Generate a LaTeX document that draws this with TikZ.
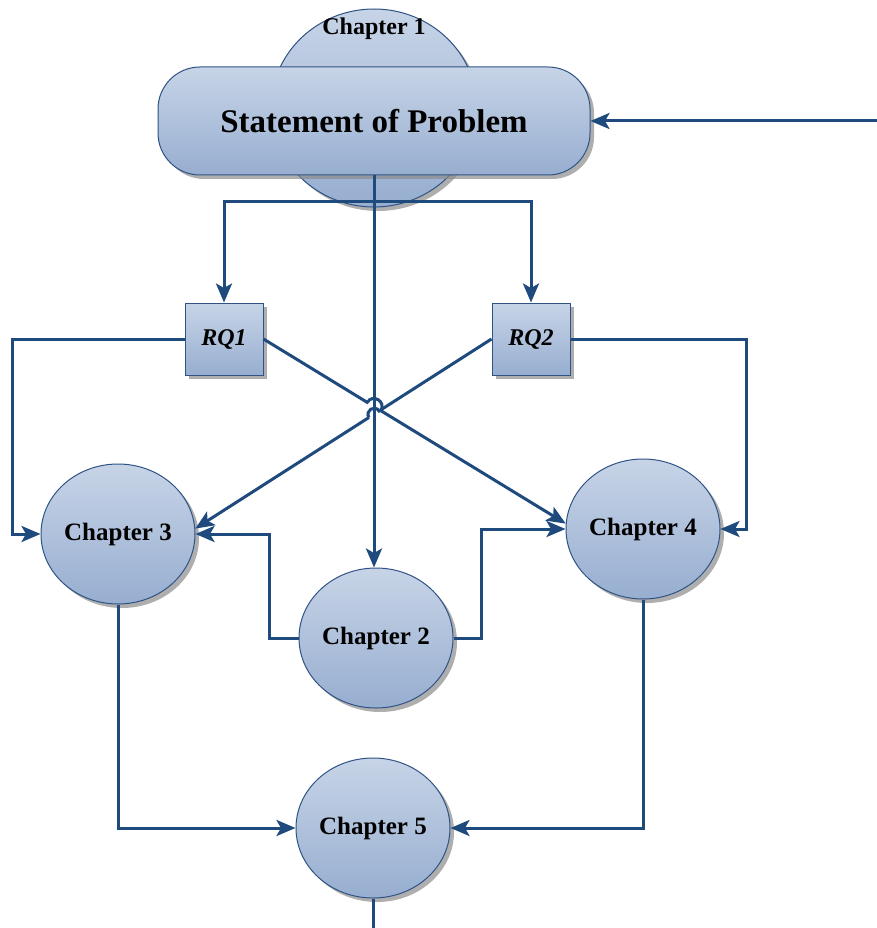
\documentclass[tikz,border=0pt]{standalone}
\usepackage{fontspec}
\setmainfont{Liberation Serif}
\usetikzlibrary{arrows.meta,shadows,calc,shapes.geometric}
\definecolor{linkblue}{HTML}{1F4A7E}
\definecolor{edgeblue}{HTML}{2F5385}
\definecolor{filltop}{HTML}{C7D4E7}
\definecolor{fillbot}{HTML}{97AED0}

\begin{document}
\begin{tikzpicture}[x=1pt,y=-1pt,
  shaded/.style={draw=edgeblue, line width=1pt, top color=filltop, bottom color=fillbot,
    drop shadow={shadow xshift=4pt, shadow yshift=-4pt, fill=black!45, opacity=0.7}},
  chap/.style={shaded, ellipse, minimum width=154pt, minimum height=140pt, inner sep=0pt,
    font=\fontsize{25}{29}\selectfont\bfseries},
  rqbox/.style={shaded, rectangle, minimum width=78pt, minimum height=72pt, inner sep=0pt,
    font=\fontsize{24}{28}\selectfont\bfseries\itshape},
  link/.style={draw=linkblue, line width=3pt, -{Stealth[length=19pt,width=16pt,inset=4.5pt]}},
  plainlink/.style={draw=linkblue, line width=3pt}
]
\useasboundingbox (0,0) rectangle (877,928);

% --- nodes ---
\node[chap, minimum width=206pt, minimum height=198pt] (ch1) at (374,108) {};
\node[shaded, rectangle, rounded corners=42pt, minimum width=432pt, minimum height=108pt,
  font=\fontsize{33}{38}\selectfont\bfseries] (sop) at (374,121) {Statement of Problem};
\node[font=\fontsize{24}{28}\selectfont\bfseries] (ch1t) at (374,29) {Chapter 1};

\node[rqbox] (rq1) at (224,339) {RQ1};
\node[rqbox] (rq2) at (531,339) {RQ2};

\node[chap] (ch3) at (118,534) {Chapter 3};
\node[chap] (ch4) at (643,529) {Chapter 4};
\node[chap] (ch2) at (376,638) {Chapter 2};
\node[chap] (ch5) at (373,828) {Chapter 5};

% --- free ends and bends ---
\coordinate (src) at (877,121);
\coordinate (split) at ($(sop.south)+(0,26)$);
\coordinate (mid) at (sop.south |- ch2.north);
\coordinate (lrail) at (12,339);
\coordinate (rrail) at (746,339);
\coordinate (c2l) at (269,638);
\coordinate (c2r) at (481,638);
\coordinate (sink) at (373,928);

% --- connectors ---
\draw[link] (src) -- (sop.east);
\draw[link] (sop.south) -- (mid);
\draw[link] (split) -| (rq1.north);
\draw[link] (split) -| (rq2.north);

\draw[link] (rq1.west) -- (lrail) |- (ch3.west);
\draw[link] (rq2.east) -- (rrail) |- (ch4.east);

% diagonals with line hops over the vertical trunk
\coordinate (xa) at (intersection of rq1.east--ch4.176 and sop.south--mid);
\coordinate (pa1) at ($(xa)!8pt!(rq1.east)$);
\coordinate (pa2) at ($(xa)!8pt!(ch4.176)$);
\draw[plainlink] (rq1.east) -- (pa1)
  .. controls ($(pa1)!10.6pt!90:(xa)$) and ($(pa2)!10.6pt!-90:(xa)$) .. (pa2);
\draw[link] (pa2) -- (ch4.176);

\coordinate (xb) at (intersection of rq2.west--ch3.4 and sop.south--mid);
\coordinate (pb1) at ($(xb)!6pt!(rq2.west)$);
\coordinate (pb2) at ($(xb)!6pt!(ch3.4)$);
\draw[plainlink] (rq2.west) -- (pb1)
  .. controls ($(pb1)!8pt!-90:(xb)$) and ($(pb2)!8pt!90:(xb)$) .. (pb2);
\draw[link] (pb2) -- (ch3.4);

\draw[link] (ch2.west) -- (c2l) |- (ch3.east);
\draw[link] (ch2.east) -- (c2r) |- (ch4.west);

\draw[link] (ch3.south) |- (ch5.west);
\draw[link] (ch4.south) |- (ch5.east);
\draw[plainlink] (ch5.south) -- (sink);
\end{tikzpicture}
\end{document}
